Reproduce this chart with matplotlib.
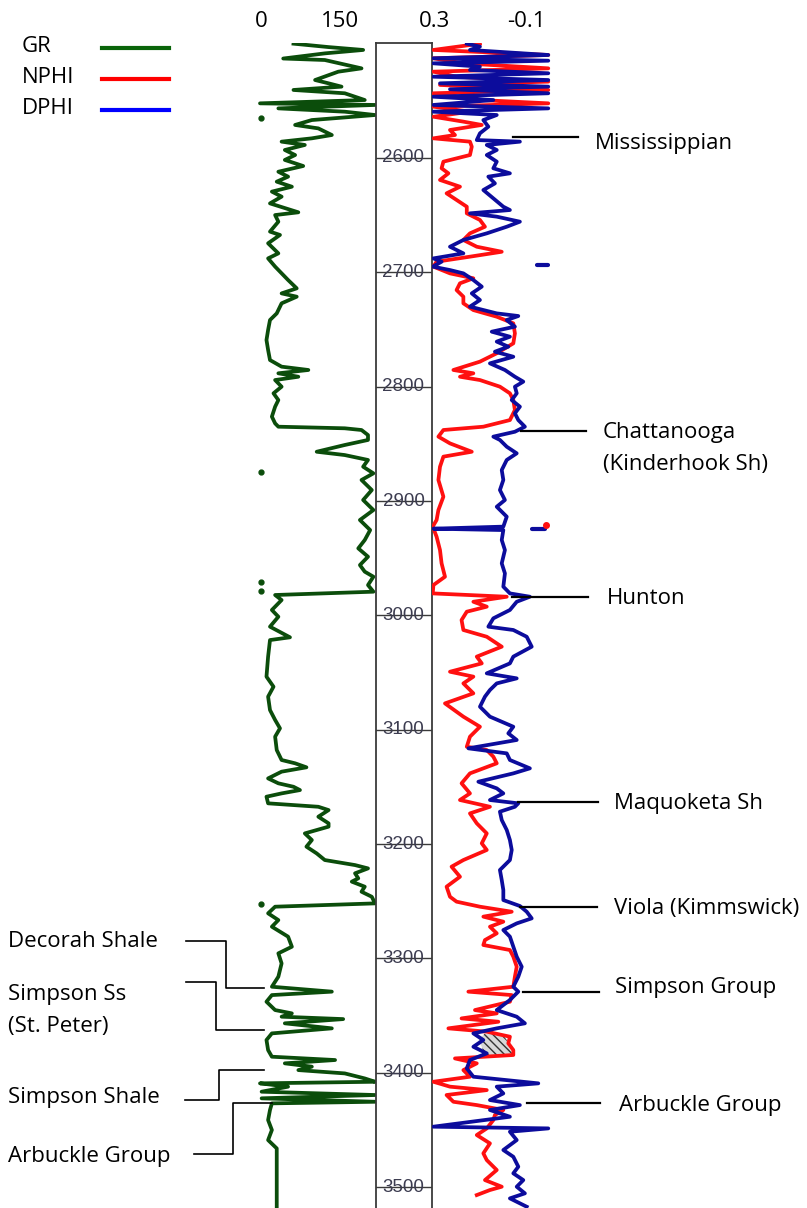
import numpy as np
import matplotlib
matplotlib.use("Agg")
import matplotlib.pyplot as plt

plt.rcParams['font.family'] = ['Open Sans', 'DejaVu Sans']

gr_depth = [2500, 2503, 2505.5, 2508.5, 2513, 2514.3, 2521.6, 2524.5, 2531.8, 2534.7, 2537.6, 2540.5,
            2543.4, 2549.3, 2552.2, 2553.6, 2556.6, 2559.5, 2562.4, 2566.8, 2571.1, 2574.1, 2579.9,
            2582.8, 2585.7, 2588.6, 2593, 2597.4, 2601.7, 2607, 2612, 2616.3, 2620.7, 2625.1, 2629.4,
            2633.8, 2639.7, 2647.5, 2649.9, 2655.7, 2664.4, 2667.3, 2674.6, 2683.4, 2687.8, 2695,
            2700.9, 2706.7, 2714, 2718.4, 2721.3, 2727.1, 2735.9, 2741.7, 2750.4, 2759.2, 2767.9,
            2776.7, 2782.5, 2785.4, 2788.3, 2791.3, 2794.2, 2800, 2805.8, 2811.7, 2817.5, 2826.2,
            2832.1, 2835, 2836.4, 2837.9, 2842.3, 2846.6, 2851, 2856.9, 2859.8, 2864.1, 2870, 2875.8,
            2881.6, 2890.4, 2899.1, 2907.9, 2916.6, 2925.4, 2934.1, 2941.4, 2948.7, 2956, 2961.8,
            2966.2, 2973.5, 2979.3, 2982.2, 2986.6, 2995.3, 3001.2, 3009.9, 3019.2, 3021.6, 3036.1,
            3053.6, 3062.4, 3071.1, 3082.8, 3091.5, 3098.8, 3106.1, 3117.8, 3126.5, 3129.4, 3132.9,
            3136.7, 3142.6, 3146.9, 3149.9, 3152.8, 3155.7, 3158.6, 3164.4, 3167.4, 3170.3, 3176.1,
            3181.9, 3184.8, 3190.7, 3196.5, 3202.3, 3208.2, 3214, 3218.4, 3221.3, 3225.6, 3230,
            3232.9, 3237.3, 3241.7, 3246.1, 3251.9, 3254.8, 3260.6, 3266.5, 3272.3, 3281, 3289.8,
            3295.6, 3304.4, 3316, 3324.8, 3329.1, 3332.1, 3337.9, 3345.2, 3348.1, 3351, 3353.1,
            3356.8, 3361.2, 3365.6, 3371.4, 3380.2, 3386, 3388.9, 3391.8, 3394.7, 3397.7, 3400.6,
            3405, 3407.9, 3409.3, 3412.2, 3416.6, 3419.5, 3422.4, 3425.4, 3426.8, 3432.6, 3441.4,
            3450.1, 3458.9, 3466.2, 3517.2]
gr_api = [62, 127, 191, 120, 43, 120, 188, 145, 102, 127, 151, 62,
          157, 194, 0, 213, 34, 157, 213, 96, 65, 108, 133,
          96, 40, 83, 46, 65, 46, 80, 34, 52, 31, 59, 22,
          40, 18.5, 71, 28, 34, 18.5, 37, 15, 34, 15, 28,
          40, 52, 68, 40, 68, 40, 31, 18.5, 15, 12, 15,
          18.5, 40, 89.5, 34, 71, 28, 40, 25, 34, 28, 22,
          28, 34, 157, 188, 200, 200, 157, 105, 157, 200, 191, 210,
          188, 207, 191, 210, 185, 204, 194, 182, 200, 185, 194,
          210, 200, 210, 28, 40, 22, 34, 18.5, 55.5, 18.5, 15,
          12, 25, 15, 18.5, 28, 37, 28, 31, 40, 65, 86,
          40, 15, 34, 62, 74, 40, 12, 15, 108, 127, 108,
          127, 127, 83, 96, 86, 105, 120, 176, 200, 176, 182,
          170, 194, 188, 207, 213, 28, 15, 34, 22, 52, 59,
          34, 40, 34, 22, 133, 22, 12, 28, 59, 40, 154,
          46, 133, 22, 12, 15, 22, 139, 46, 96, 71, 157,
          194, 213, 0, 52, 3, 213, 3, 213, 22, 18.5, 15,
          22, 15, 31, 31]
gr_dot_depth = [2564.7, 2875, 2970.6, 2979, 3252.5]
gr_dot_api = [2, 2, 2, 2, 2]

nphi_depth = [2500, 2505.5, 2509.9, 2512.8, 2517.2, 2521.6, 2524.5, 2528.9, 2533.2, 2536.1, 2540.5,
              2543.4, 2549.3, 2552.2, 2555.1, 2559.5, 2563.9, 2568.2, 2571.1, 2575.5, 2579.9, 2582.8,
              2585.7, 2590.1, 2597.4, 2603.2, 2609, 2613.4, 2619.2, 2625.1, 2630.9, 2636.7, 2642.6,
              2648.4, 2654.2, 2660.1, 2665.9, 2671.7, 2677.6, 2682, 2686.3, 2690.7, 2695, 2700.9,
              2705.2, 2709.6, 2715.5, 2721.3, 2727.1, 2733, 2738.8, 2744.6, 2753.4, 2762.1, 2770.8,
              2778.1, 2785.4, 2788.3, 2791.3, 2794.2, 2800, 2805.8, 2811.7, 2820.4, 2829.2, 2835,
              2837.9, 2843.7, 2849.6, 2856.9, 2861.2, 2870, 2881.6, 2896.2, 2907.9, 2916.6, 2922.4,
              2931.2, 2942.9, 2954.5, 2966.2, 2973.5, 2980.8, 2983.7, 2988.1, 2992.4, 2996.8, 3004.1,
              3012.8, 3018.7, 3027.4, 3036.1, 3042, 3049.3, 3053.6, 3059.5, 3068.2, 3077, 3088.6,
              3097.4, 3106.1, 3114.9, 3117.8, 3123.6, 3129.4, 3138.2, 3146.9, 3155.7, 3161.5, 3167.4,
              3173.2, 3181.9, 3190.7, 3199.4, 3205.2, 3214, 3219.8, 3228.6, 3237.3, 3246.1, 3250.4,
              3254.8, 3259.2, 3263.5, 3267.9, 3272.3, 3278.1, 3284, 3288.3, 3292.7, 3298.5, 3307.3,
              3316, 3324.8, 3329.1, 3332.1, 3337.9, 3345.2, 3348.1, 3352.5, 3355.4, 3361.2, 3364.1,
              3368.5, 3374.3, 3380.2, 3384.5, 3387.5, 3391.8, 3397.7, 3403.5, 3407.9, 3412.2, 3415.2,
              3419.5, 3425.4, 3428.3, 3432.6, 3437, 3441.4, 3448.7, 3454.5, 3461.8, 3470.5, 3476.4,
              3485.1, 3493.9, 3499.7, 3502.6, 3507]
nphi = [0.102, 0.307, -0.199, 0.307, 0.175, -0.199, 0.307, 0.205, -0.199, 0.278, -0.199,
        0.307, 0.102, -0.199, 0.307, 0.146, 0.307, 0.175, 0.094, 0.234, 0.212, 0.307,
        0.146, 0.138, 0.146, 0.263, 0.271, 0.241, 0.278, 0.190, 0.249, 0.205, 0.160,
        0.160, 0.102, 0.080, 0.146, 0.175, 0.116, 0.006, 0.146, 0.293, 0.307, 0.234,
        0.131, 0.190, 0.205, 0.175, 0.175, 0.131, 0.028, -0.045, -0.052, -0.045, 0.028,
        0.102, 0.219, 0.131, 0.190, 0.102, 0.014, -0.030, -0.045, -0.052, -0.030, 0.087,
        0.263, 0.285, 0.234, 0.138, 0.263, 0.278, 0.285, 0.263, 0.285, 0.293, 0.310,
        0.293, 0.278, 0.271, 0.256, 0.307, 0.310, -0.016, 0.131, 0.072, 0.160, 0.183,
        0.175, 0.072, 0.006, 0.116, 0.094, 0.234, 0.131, 0.175, 0.131, 0.256, 0.175,
        0.102, 0.146, 0.160, 0.072, 0.043, 0.028, 0.146, 0.183, 0.146, 0.190, 0.058,
        0.146, 0.116, 0.072, 0.094, 0.072, 0.175, 0.227, 0.190, 0.249, 0.234, 0.205,
        0.102, -0.038, 0.087, -0.001, 0.058, 0.028, 0.080, 0.087, -0.030, -0.045, -0.060,
        -0.052, -0.045, 0.153, -0.038, -0.030, 0.124, 0.028, 0.183, 0.021, 0.241, 0.072,
        -0.030, -0.023, -0.045, -0.045, 0.212, 0.116, 0.175, 0.146, 0.307, 0.234, 0.072,
        0.249, 0.219, 0.116, -0.001, 0.036, 0.043, 0.072, 0.116, 0.058, 0.087, 0.072,
        0.028, 0.080, 0.006, 0.058, 0.116]

dphi_depth = [2500, 2502.6, 2505.5, 2509.9, 2512.8, 2514.9, 2517.2, 2520.1, 2523, 2525.9, 2528.9,
              2531.8, 2534.7, 2537.6, 2539.9, 2543.4, 2546.4, 2549.3, 2553.6, 2556.6, 2559.5, 2562.4,
              2566.8, 2572.6, 2578.4, 2584.3, 2585.7, 2588.6, 2593, 2597.4, 2603.2, 2609, 2613.4,
              2616.3, 2622.2, 2628, 2635.3, 2642.6, 2645.5, 2648.4, 2651.3, 2655.7, 2660.1, 2665.9,
              2671.7, 2677.6, 2683.4, 2687.8, 2690.7, 2695, 2698, 2700.9, 2706.7, 2712.5, 2718.4,
              2724.2, 2730, 2735.9, 2738.2, 2741.7, 2747.5, 2751.9, 2756.3, 2760.6, 2765, 2769.4,
              2773.8, 2779.6, 2785.4, 2791.3, 2795.6, 2800, 2805.8, 2811.7, 2817.5, 2823.3, 2829.2,
              2835, 2839.4, 2843.7, 2846.6, 2852.5, 2858.3, 2864.1, 2872.9, 2881.6, 2890.4, 2899.1,
              2905, 2913.7, 2922.4, 2924.2, 2925.4, 2934.1, 2942.9, 2954.5, 2963.3, 2974.9, 2980.8,
              2983.7, 2988.1, 2995.3, 3002.6, 3009.9, 3012.8, 3018.7, 3027.4, 3036.1, 3042, 3050.7,
              3055.1, 3059.5, 3065.3, 3071.1, 3079.9, 3088.6, 3097.4, 3103.2, 3109, 3116.3, 3120.7,
              3126.5, 3133.8, 3138.2, 3145.5, 3151.3, 3155.7, 3161.5, 3164.4, 3167.4, 3171.7, 3179,
              3187.7, 3196.5, 3205.2, 3214, 3222.7, 3231.5, 3240.2, 3249, 3254.2, 3259.2, 3265,
              3269.4, 3275.2, 3281, 3289.8, 3298.5, 3307.3, 3316, 3324.8, 3329.1, 3336.4, 3345.2,
              3351, 3356.8, 3361.2, 3365.6, 3371.4, 3377.3, 3383.1, 3388.9, 3396.2, 3403.5, 3409.3,
              3412.2, 3418.1, 3423.9, 3428.3, 3432.6, 3438.5, 3447.2, 3448.7, 3451.6, 3458.9, 3467.6,
              3473.5, 3482.2, 3488, 3493.9, 3499.7, 3505.5, 3509.9, 3517.2]
dphi = [0.160, 0.102, 0.146, -0.199, 0.307, -0.199, 0.307, 0.102, 0.146, -0.199, 0.307,
        -0.199, 0.278, -0.199, 0.234, -0.199, 0.307, 0.043, 0.307, -0.199, 0.307, 0.028,
        0.087, 0.065, 0.102, 0.116, -0.074, 0.072, 0.028, 0.072, 0.028, 0.043, -0.030,
        0.065, 0.036, 0.087, 0.043, -0.001, -0.030, 0.146, 0.028, -0.074, -0.016, 0.072,
        0.175, 0.234, 0.175, 0.307, 0.271, 0.310, 0.234, 0.175, 0.131, 0.094, 0.138,
        0.102, 0.146, 0.028, -0.067, -0.016, -0.052, 0.050, -0.030, 0.028, -0.023, 0.036,
        -0.045, 0.058, -0.008, -0.052, -0.089, -0.052, -0.060, -0.038, -0.074, -0.052, -0.067,
        -0.096, -0.052, 0.043, 0.014, -0.016, -0.060, -0.016, 0.006, -0.001, 0.014, -0.008,
        0.028, -0.016, -0.001, 0.307, -0.001, 0.006, -0.008, 0.006, -0.008, -0.001, -0.030,
        -0.118, -0.060, -0.030, 0.043, 0.065, -0.045, -0.104, -0.126, -0.045, -0.030, 0.072,
        -0.060, 0.028, 0.058, 0.080, 0.102, 0.058, -0.045, -0.023, -0.060, 0.153, -0.016,
        -0.030, -0.118, -0.045, 0.109, 0.028, -0.001, 0.058, -0.067, -0.052, 0.014, 0.006,
        -0.016, -0.030, -0.038, -0.030, 0.014, 0.006, -0.001, -0.001, -0.074, -0.104, -0.126,
        -0.060, -0.001, -0.030, -0.045, -0.060, -0.082, -0.067, -0.045, -0.067, -0.030, 0.028,
        -0.060, -0.096, 0.028, 0.131, 0.087, 0.131, 0.072, 0.146, 0.160, 0.131, -0.155,
        0.028, -0.001, 0.058, -0.074, 0.058, -0.030, 0.307, -0.199, -0.030, -0.060, -0.001,
        -0.045, -0.067, -0.045, -0.089, -0.060, -0.096, -0.030, -0.104]

# stray readings off to the right of the porosity track
dphi_blip_depth = [2694, 2694, 2924.5, 2924.5]
dphi_blip = [-0.148, -0.199, -0.126, -0.185]
nphi_blip_depth = [2921]
nphi_blip = [-0.187]

# gas-effect crossover (hatched)
hatch_depth = [3365.6, 3371.4, 3377.2, 3384.5]
hatch_dphi = [0.080, 0.109, 0.094, 0.080]
hatch_nphi = [0.006, -0.016, -0.023, -0.045]

depth_ticks = [2600, 2700, 2800, 2900, 3000, 3100, 3200, 3300, 3400, 3500]

right_tops = ["Mississippian", "Chattanooga\n(Kinderhook Sh)", "Hunton", "Maquoketa Sh",
              "Viola (Kimmswick)", "Simpson Group", "Arbuckle Group"]
left_tops = ["Decorah Shale", "Simpson Ss\n(St. Peter)", "Simpson Shale", "Arbuckle Group"]

# ---------------- layout (pixel based) ----------------
W, H = 807, 1208
fig = plt.figure(figsize=(W / 100, H / 100), dpi=100)

def px_axes(x0, x1, y0, y1):
    return fig.add_axes([x0 / W, 1 - y1 / H, (x1 - x0) / W, (y1 - y0) / H])

def depth_at(y):
    return 2600 + (y - 158) / 1.1434

TOP, BOT = 43, H
ylim = (depth_at(BOT), depth_at(TOP))

GR_C = '#0b4d0b'
RED = '#ff1010'
BLUE = '#0c0c9c'

# GR track
ax_gr = px_axes(245, 376, TOP, BOT)
ax_gr.set_xlim((245 - 260) / 0.54, (376 - 260) / 0.54)
ax_gr.set_ylim(*ylim)
ax_gr.plot(gr_api, gr_depth, color=GR_C, lw=2.7, solid_joinstyle='round')
ax_gr.plot(gr_dot_api, gr_dot_depth, 'o', color=GR_C, ms=3.5)
ax_gr.axis('off')

# depth track
ax_d = px_axes(376, 432, TOP, BOT)
ax_d.set_xlim(0, 1)
ax_d.set_ylim(*ylim)
ax_d.set_xticks([])
ax_d.set_yticks([])
for s in ['left', 'right', 'top']:
    ax_d.spines[s].set_color('#3a3a3a')
    ax_d.spines[s].set_linewidth(1.3)
ax_d.spines['bottom'].set_visible(False)
for d in depth_ticks:
    ax_d.plot([0, 1], [d, d], color='#3a3a3a', lw=1.0)
    ax_d.text(0.49, d, str(d), ha='center', va='center', fontsize=13.5,
              family=['Liberation Sans', 'DejaVu Sans'], color='#3c3c50')

# porosity track
ax_p = px_axes(432, 560, TOP, BOT)
ax_p.set_xlim(0.3 + 3 / 227, 0.3 - 125 / 227)
ax_p.set_ylim(*ylim)
ax_p.fill_betweenx(hatch_depth, hatch_dphi, hatch_nphi, facecolor='#d8d8d8',
                   edgecolor='#333333', hatch='\\\\\\\\', lw=0, zorder=1)
ax_p.plot(nphi, nphi_depth, color=RED, lw=2.7, solid_joinstyle='round', zorder=2)
ax_p.plot(dphi, dphi_depth, color=BLUE, lw=2.7, solid_joinstyle='round', zorder=3)
for i in range(0, len(dphi_blip), 2):
    ax_p.plot(dphi_blip[i:i + 2], dphi_blip_depth[i:i + 2], color=BLUE, lw=3, solid_capstyle='round')
ax_p.plot(nphi_blip, nphi_blip_depth, 'o', color=RED, ms=4)
ax_p.axis('off')

# overlay for headers, legend and formation tops
ov = fig.add_axes([0, 0, 1, 1], zorder=5)
ov.set_xlim(0, W)
ov.set_ylim(H, 0)
ov.axis('off')
ov.patch.set_alpha(0)

fs = 16

def put_label(x, y, lab, step=32):
    # y is the baseline of the first line
    for k, line in enumerate(lab.split('\n')):
        ov.text(x, y + k * step, line, ha='left', va='baseline', fontsize=fs)

for lab, x in zip(["0", "150", "0.3", "-0.1"], [261, 340, 435, 526]):
    ov.text(x, 27, lab, ha='center', va='baseline', fontsize=fs)

for lab, col, y in zip(["GR", "NPHI", "DPHI"], ['#0a640a', '#ff0000', '#0000ff'], [48, 79, 110]):
    ov.text(22, y + 4, lab, ha='left', va='baseline', fontsize=fs)
    ov.plot([102, 169], [y, y], color=col, lw=3)

# right-hand formation tops
r_lines = [(513, 578, 137), (521, 586, 431), (512, 588, 597), (518, 598, 802),
           (520, 597, 907), (523, 599, 992), (527, 600, 1103)]
r_text = [(595, 149), (603, 438), (607, 604), (614, 809), (614, 914), (615, 993), (619, 1111)]
for (x0, x1, y), (tx, ty), lab in zip(r_lines, r_text, right_tops):
    ov.plot([x0, x1], [y, y], color='black', lw=1.6)
    put_label(tx, ty, lab)

# left-hand formation tops (elbow leaders)
l_lines = [[(186, 941), (226, 941), (226, 988), (264, 988)],
           [(186, 982), (216, 982), (216, 1030), (264, 1030)],
           [(185, 1100), (219, 1100), (219, 1070), (264, 1070)],
           [(194, 1154), (233, 1154), (233, 1103), (272, 1103)]]
l_text = [(8, 947), (8, 1000), (8, 1103), (8, 1162)]
for pts, (tx, ty), lab in zip(l_lines, l_text, left_tops):
    xs, ys = zip(*pts)
    ov.plot(xs, ys, color='black', lw=1.2)
    put_label(tx, ty, lab)

fig.savefig("out.png", dpi=100)
